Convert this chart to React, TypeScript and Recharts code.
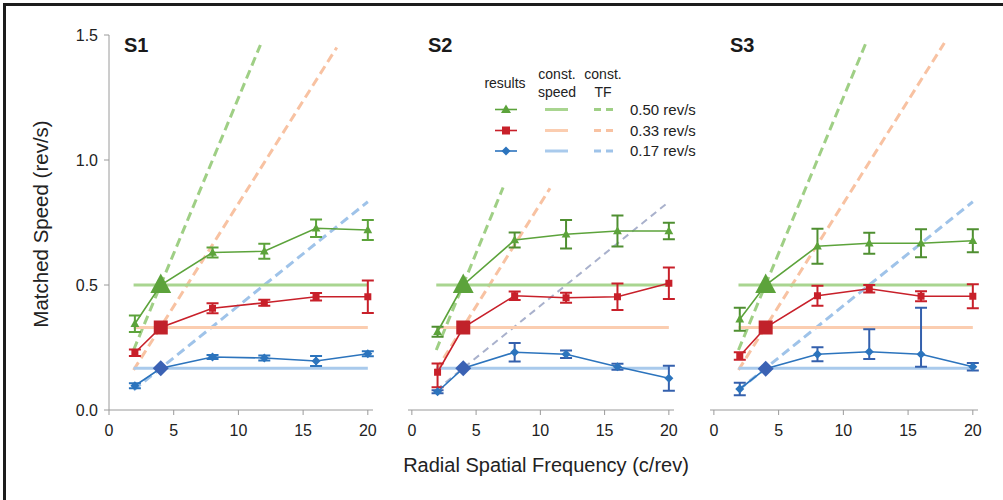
import React from "react";
import { ComposedChart, Line, XAxis, YAxis, ErrorBar } from "recharts";

// spatial frequencies tested (c/rev)
const FREQ = [2, 4, 8, 12, 16, 20];
const X_TICKS = [0, 5, 10, 15, 20];
const Y_TICKS = [0, 0.5, 1.0, 1.5];
const SPEED_LABELS = ["0.50 rev/s", "0.33 rev/s", "0.17 rev/s"];

// const. speed reference lines
const CONST_SPEED = [0.5, 0.33, 0.167];
const CONST_X = [1.9, 20];

// const. TF dashed lines: start point and where each one stops
const TF_START_F = 1.9;
const TF_START_V = [0.24, 0.16, 0.08];
const s1TfEndF = [11.7, 17.6, 20];
const s1TfEndV = [1.46, 1.45, 0.833];
const s2TfEndF = [7.1, 10.75, 20];
const s2TfEndV = [0.89, 0.887, 0.833];
const s3TfEndF = [11.8, 17.8, 20];
const s3TfEndV = [1.475, 1.468, 0.833];

// S1
const s1Fast = [0.345, 0.5, 0.63, 0.635, 0.727, 0.72];
const s1FastErr = [0.033, 0, 0.02, 0.03, 0.035, 0.04];
const s1Mid = [0.229, 0.33, 0.407, 0.429, 0.453, 0.453];
const s1MidErr = [0.013, 0, 0.02, 0.012, 0.015, 0.065];
const s1Slow = [0.097, 0.167, 0.212, 0.208, 0.196, 0.225];
const s1SlowErr = [0.01, 0, 0.008, 0.01, 0.02, 0.01];

// S2
const s2Fast = [0.313, 0.5, 0.68, 0.703, 0.716, 0.716];
const s2FastErr = [0.02, 0, 0.03, 0.057, 0.062, 0.033];
const s2Mid = [0.151, 0.33, 0.457, 0.449, 0.453, 0.507];
const s2MidErr = [[0.06, 0.035], 0, 0.017, 0.02, 0.053, 0.063];
const s2Slow = [0.073, 0.167, 0.231, 0.223, 0.173, 0.127];
const s2SlowErr = [0.006, 0, 0.037, 0.015, 0.012, 0.05];

// S3
const s3Fast = [0.363, 0.5, 0.655, 0.667, 0.667, 0.677];
const s3FastErr = [0.046, 0, 0.07, 0.042, 0.056, 0.046];
const s3Mid = [0.216, 0.33, 0.457, 0.485, 0.455, 0.455];
const s3MidErr = [0.015, 0, 0.04, 0.015, 0.02, 0.048];
const s3Slow = [0.084, 0.165, 0.223, 0.233, 0.223, 0.173];
const s3SlowErr = [0.025, 0, 0.028, [0.029, 0.09], [0.05, 0.186], 0.015];

const GREEN = "#5ca33b";
const RED = "#c8202a";
const BLUE = "#2c74bd";
const GREEN_LT = "#a9d590";
const ORANGE_LT = "#fbcdb0";
const BLUE_LT = "#a9caec";
const GREEN_DASH = "#9fcf85";
const ORANGE_DASH = "#f8c2a2";
const BLUE_DASH = "#9fc3e9";
const DIAMOND_BIG = "#3b62b4";
const FONT = "'Liberation Sans', Arial, sans-serif";

const rows = (vals: number[], errs: any[]) =>
  FREQ.map((f, i) => ({ f, v: vals[i], e: errs[i] }));

function makeDot(kind: string, color: string, bigColor: string) {
  return (p: any) => {
    const { cx, cy, payload, index } = p;
    if (cx == null || cy == null) return <g key={index} />;
    const big = payload.f === 4;
    const fill = big ? bigColor : color;
    if (kind === "tri") {
      const s = big ? 19 : 8;
      const pts = `${cx},${cy - s * 0.6} ${cx - s * 0.55},${cy + s * 0.42} ${cx + s * 0.55},${cy + s * 0.42}`;
      return <polygon key={index} points={pts} fill={fill} />;
    }
    if (kind === "sq") {
      const s = big ? 14 : 7;
      return <rect key={index} x={cx - s / 2} y={cy - s / 2} width={s} height={s} fill={fill} />;
    }
    const r = big ? 8 : 4.5;
    const pts = `${cx},${cy - r} ${cx + r},${cy} ${cx},${cy + r} ${cx - r},${cy}`;
    return <polygon key={index} points={pts} fill={fill} />;
  };
}

function Panel(props: any) {
  const {
    left, width, ml, mr, domainX, showY, title,
    fast, fastErr, mid, midErr, slow, slowErr,
    tfEndF, tfEndV, slowDash, errDark,
  } = props;
  const dashColors = [GREEN_DASH, ORANGE_DASH, slowDash || BLUE_DASH];
  const constColors = [GREEN_LT, ORANGE_LT, BLUE_LT];
  const results = [
    { data: rows(fast, fastErr), color: GREEN, err: errDark ? "#4f8f31" : GREEN, kind: "tri", big: GREEN },
    { data: rows(mid, midErr), color: RED, err: RED, kind: "sq", big: "#c1222a" },
    { data: rows(slow, slowErr), color: BLUE, err: errDark ? "#3460ad" : BLUE, kind: "dia", big: DIAMOND_BIG },
  ];
  return (
    <div style={{ position: "absolute", left, top: 0 }}>
      <ComposedChart width={width} height={440} margin={{ top: 35, right: mr, bottom: 0, left: ml }}>
        <XAxis
          type="number"
          dataKey="f"
          domain={domainX}
          ticks={X_TICKS}
          allowDataOverflow
          height={30}
          tickSize={5}
          tickMargin={10}
          stroke="#9a9a9a"
          tick={{ fill: "#222", fontSize: 16 }}
        />
        <YAxis
          type="number"
          domain={[0, 1.5]}
          ticks={Y_TICKS}
          hide={!showY}
          width={60}
          tickSize={5}
          tickMargin={6}
          stroke="#9a9a9a"
          tick={{ fill: "#222", fontSize: 16 }}
          tickFormatter={(v: number) => v.toFixed(1)}
        />
        {CONST_SPEED.map((s, i) => (
          <Line
            key={`tf${i}`}
            data={[
              { f: TF_START_F, v: TF_START_V[i] },
              { f: tfEndF[i], v: tfEndV[i] },
            ]}
            dataKey="v"
            type="linear"
            stroke={dashColors[i]}
            strokeWidth={slowDash && i === 2 ? 2 : 3}
            strokeDasharray={slowDash && i === 2 ? "7 5" : "9 5"}
            dot={false}
            isAnimationActive={false}
          />
        ))}
        {CONST_SPEED.map((s, i) => (
          <Line
            key={`cs${i}`}
            data={CONST_X.map((f) => ({ f, v: s }))}
            dataKey="v"
            type="linear"
            stroke={constColors[i]}
            strokeWidth={3}
            dot={false}
            isAnimationActive={false}
          />
        ))}
        {results.map((r, i) => (
          <Line
            key={`r${i}`}
            data={r.data}
            dataKey="v"
            type="linear"
            stroke={r.color}
            strokeWidth={1.6}
            dot={makeDot(r.kind, r.color, r.big)}
            isAnimationActive={false}
          >
            <ErrorBar dataKey="e" direction="y" width={6} stroke={r.err} strokeWidth={2} />
          </Line>
        ))}
      </ComposedChart>
      <div
        style={{
          position: "absolute",
          left: ml + (showY ? 75 : 20),
          top: 34,
          fontSize: 20,
          fontWeight: "bold",
          color: "#1a1a1a",
          lineHeight: "22px",
        }}
      >
        {title}
      </div>
    </div>
  );
}

function Legend() {
  const ys = [49.5, 70.5, 91];
  const res = [
    { c: GREEN, k: "tri" },
    { c: RED, k: "sq" },
    { c: BLUE, k: "dia" },
  ];
  const cs = [GREEN_LT, ORANGE_LT, BLUE_LT];
  const tf = [GREEN_DASH, ORANGE_DASH, BLUE_DASH];
  return (
    <svg width={240} height={110} style={{ position: "absolute", left: 470, top: 60 }}>
      <g fontFamily={FONT} fill="#222" fontSize={14} textAnchor="middle">
        <text x={35} y={28}>results</text>
        <text x={87} y={19}>const.</text>
        <text x={87} y={37}>speed</text>
        <text x={133} y={19}>const.</text>
        <text x={133} y={37}>TF</text>
      </g>
      {ys.map((y, i) => {
        const r = res[i];
        let m;
        if (r.k === "tri") m = <polygon points={`36,${y - 5} 31,${y + 3.5} 41,${y + 3.5}`} fill={r.c} />;
        else if (r.k === "sq") m = <rect x={32} y={y - 4} width={8} height={8} fill={r.c} />;
        else m = <polygon points={`36,${y - 4.5} 40.5,${y} 36,${y + 4.5} 31.5,${y}`} fill={r.c} />;
        return (
          <g key={i}>
            <line x1={25} x2={47} y1={y} y2={y} stroke={r.c} strokeWidth={1.6} />
            {m}
            <line x1={75} x2={98} y1={y} y2={y} stroke={cs[i]} strokeWidth={3} />
            <line x1={124} x2={143} y1={y} y2={y} stroke={tf[i]} strokeWidth={3} strokeDasharray="7 5" />
            <text x={160} y={y + 5} fontFamily={FONT} fontSize={15} fill="#222">
              {SPEED_LABELS[i]}
            </text>
          </g>
        );
      })}
    </svg>
  );
}

export default function App() {
  return (
    <div
      style={{
        position: "absolute",
        left: 0,
        top: 0,
        width: 1003,
        height: 500,
        overflow: "hidden",
        background: "#fff",
        fontFamily: FONT,
      }}
    >
      <div
        style={{
          position: "absolute",
          left: 3,
          top: 3,
          width: 1100,
          height: 600,
          border: "3px solid #1c1c1c",
        }}
      />
      <Panel
        left={0}
        width={390}
        ml={49}
        mr={17}
        domainX={[0, 20.4]}
        showY
        title="S1"
        fast={s1Fast}
        fastErr={s1FastErr}
        mid={s1Mid}
        midErr={s1MidErr}
        slow={s1Slow}
        slowErr={s1SlowErr}
        tfEndF={s1TfEndF}
        tfEndV={s1TfEndV}
      />
      <Panel
        left={390}
        width={300}
        ml={18}
        mr={16}
        domainX={[-0.3, 20.4]}
        title="S2"
        fast={s2Fast}
        fastErr={s2FastErr}
        mid={s2Mid}
        midErr={s2MidErr}
        slow={s2Slow}
        slowErr={s2SlowErr}
        tfEndF={s2TfEndF}
        tfEndV={s2TfEndV}
        slowDash="#a9b1cc"
        errDark
      />
      <Panel
        left={692}
        width={300}
        ml={18}
        mr={14}
        domainX={[-0.3, 20.4]}
        title="S3"
        fast={s3Fast}
        fastErr={s3FastErr}
        mid={s3Mid}
        midErr={s3MidErr}
        slow={s3Slow}
        slowErr={s3SlowErr}
        tfEndF={s3TfEndF}
        tfEndV={s3TfEndV}
        errDark
      />
      <Legend />
      <div
        style={{
          position: "absolute",
          left: 0,
          width: 1092,
          top: 454,
          textAlign: "center",
          fontSize: 20,
          color: "#222",
        }}
      >
        Radial Spatial Frequency (c/rev)
      </div>
      <div
        style={{
          position: "absolute",
          left: 41,
          top: 224,
          transform: "translate(-50%, -50%) rotate(-90deg)",
          whiteSpace: "nowrap",
          fontSize: 20.5,
          color: "#222",
        }}
      >
        Matched Speed (rev/s)
      </div>
    </div>
  );
}
